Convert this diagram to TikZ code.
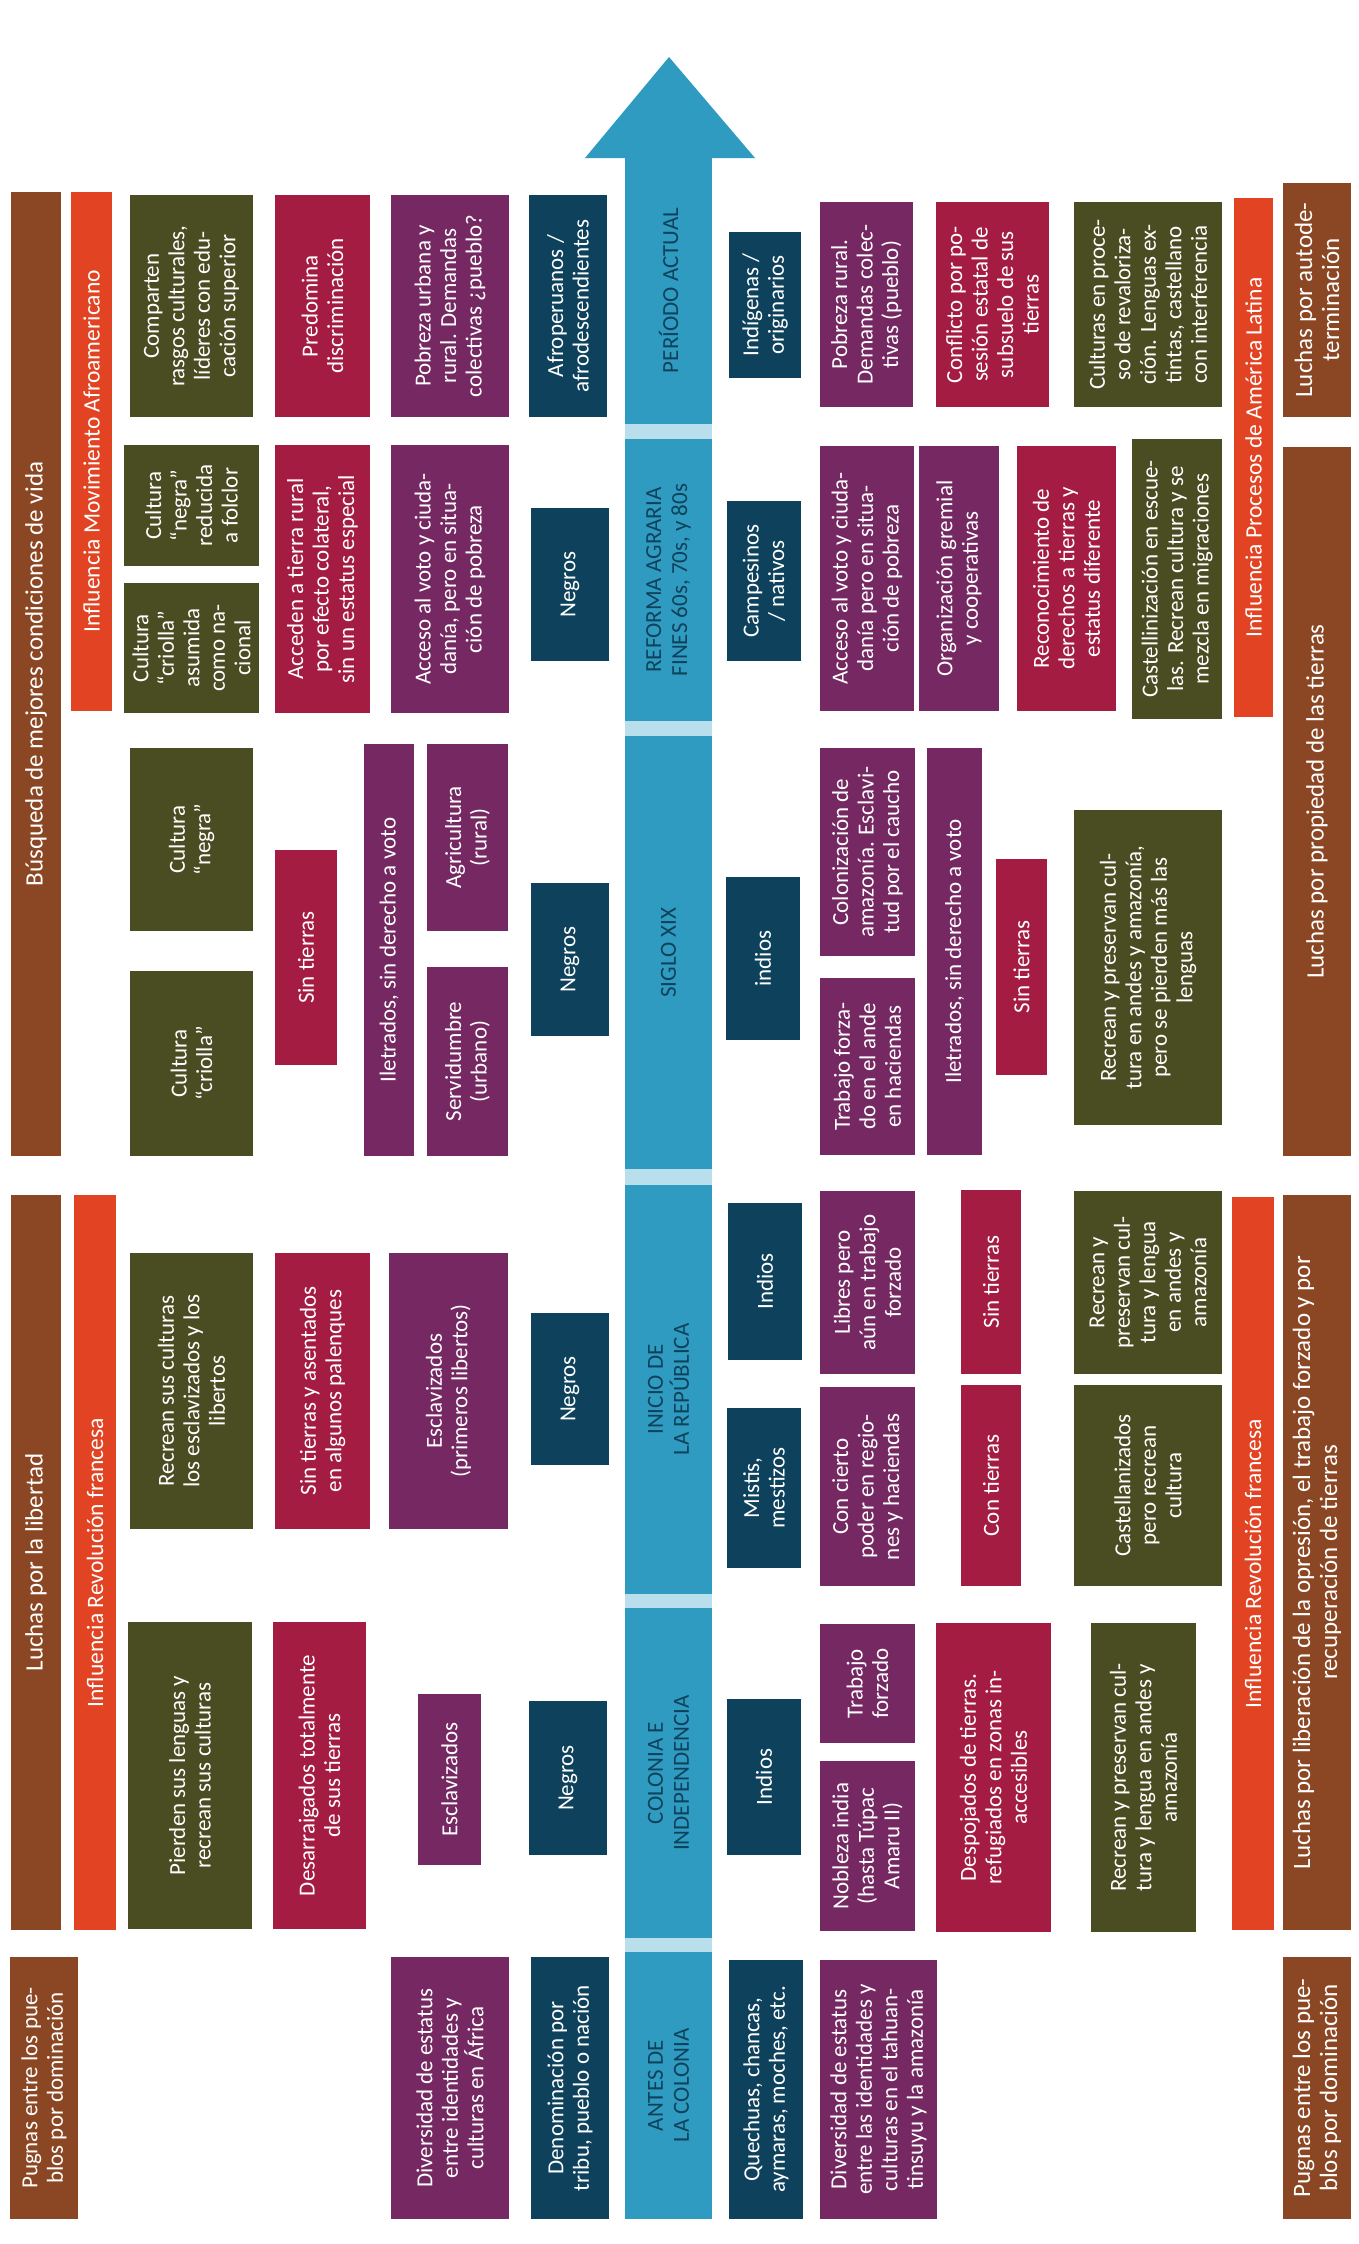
\documentclass[tikz,border=0pt]{standalone}
\usepackage{fontspec}
\setmainfont{Carlito}
\usepackage{xcolor}
\usepackage{tikz}
\definecolor{cStl}{RGB}{47,155,192}
\definecolor{cPal}{RGB}{186,223,236}
\definecolor{cNav}{RGB}{14,66,92}
\definecolor{cOlv}{RGB}{74,76,34}
\definecolor{cCrm}{RGB}{165,28,66}
\definecolor{cPur}{RGB}{117,40,98}
\definecolor{cRst}{RGB}{139,71,35}
\definecolor{cFlm}{RGB}{226,68,35}

\begin{document}
\begin{tikzpicture}[x=1pt, y=-1pt,
  cell/.style={rotate=90, inner sep=0pt, align=center, text=white,
               font=\fontsize{23}{25.5}\selectfont},
  olv/.style={cell, fill=cOlv},
  crm/.style={cell, fill=cCrm},
  pur/.style={cell, fill=cPur},
  nav/.style={cell, fill=cNav},
  infl/.style={cell, fill=cFlm, font=\fontsize{23.5}{26}\selectfont},
  band/.style={cell, fill=cRst, font=\fontsize{25}{27}\selectfont},
  era/.style={cell, fill=cStl, text=cNav, font=\fontsize{23}{26}\selectfont},
  wh/.style 2 args={minimum width=#1, minimum height=#2}]

\fill[white] (0,0) rectangle (1358,2244);
\useasboundingbox (0,0) rectangle (1358,2244);

\fill[cPal] (625,157) rectangle (712,2219);
\fill[cStl] (585,158) -- (669,57) -- (755,158) -- cycle;

\node[era, wh={267}{87}] (era1) at (668.5,290.5) {PERÍODO ACTUAL};
\node[era, wh={282}{87}] (era2) at (668.5,580) {REFORMA AGRARIA\\FINES 60s, 70s, y 80s};
\node[era, wh={433}{87}] (era3) at (668.5,952.5) {SIGLO XIX};
\node[era, wh={409}{87}] (era4) at (668.5,1389.5) {INICIO DE\\LA REPÚBLICA};
\node[era, wh={330}{87}] (era5) at (668.5,1773) {COLONIA E\\INDEPENDENCIA};
\node[era, wh={267}{87}] (era6) at (668.5,2085.5) {ANTES DE\\LA COLONIA};

\node[band, wh={964}{50}] (bsq) at (36,674) {Búsqueda de mejores condiciones de vida};
\node[infl, wh={519}{41}] (afro) at (91.5,451.5) {Influencia Movimiento Afroamericano};
\node[olv, wh={222}{123}] (cmp) at (191.5,306) {Comparten\\rasgos culturales,\\líderes con edu-\\cación superior};
\node[olv, wh={121}{135}] (ngr1) at (191.5,505.5) {Cultura\\``negra''\\reducida\\a folclor};
\node[olv, wh={130}{135}] (crl1) at (191.5,648) {Cultura\\``criolla''\\asumida\\como na-\\cional};
\node[crm, wh={222}{95}] (dsc) at (322.5,306) {Predomina\\discriminación};
\node[crm, wh={268}{95}] (acd) at (322.5,579) {Acceden a tierra rural\\por efecto colateral,\\sin un estatus especial};
\node[pur, wh={222}{118}] (pbu) at (450,306) {Pobreza urbana y\\rural. Demandas\\colectivas ¿pueblo?};
\node[pur, wh={268}{118}] (vto1) at (450,579) {Acceso al voto y ciuda-\\danía, pero en situa-\\ción de pobreza};

\node[olv, wh={183}{123}] (ngr2) at (191.5,839.5) {Cultura\\``negra''};
\node[crm, wh={215}{62}] (snt1) at (306,957.5) {Sin tierras};
\node[pur, wh={412}{50}] (ilt1) at (389,950) {Iletrados, sin derecho a voto};
\node[pur, wh={187}{81}] (agr) at (467.5,837.5) {Agricultura\\(rural)};
\node[pur, wh={189}{81}] (srv) at (467.5,1061.5) {Servidumbre\\(urbano)};
\node[olv, wh={185}{123}] (crl2) at (191.5,1063.5) {Cultura\\``criolla''};

\node[band, wh={735}{50}] (lib) at (36,1562.5) {Luchas por la libertad};
\node[infl, wh={735}{42}] (rvf1) at (95,1562.5) {Influencia Revolución francesa};
\node[olv, wh={276}{123}] (rcs) at (191.5,1391) {Recrean sus culturas\\los esclavizados y los\\libertos};
\node[crm, wh={276}{95}] (plq) at (322.5,1391) {Sin tierras y asentados\\en algunos palenques};
\node[pur, wh={276}{119}] (esc1) at (448.5,1391) {Esclavizados\\(primeros libertos)};

\node[olv, wh={307}{124}] (prd) at (190,1775.5) {Pierden sus lenguas y\\recrean sus culturas};
\node[crm, wh={307}{93}] (dsr) at (319.5,1775.5) {Desarraigados totalmente\\de sus tierras};
\node[pur, wh={171}{63}] (esc2) at (449.5,1779.5) {Esclavizados};

\node[band, wh={262}{68}, font=\fontsize{23}{25.5}\selectfont] (pug1) at (44,2088) {Pugnas entre los pue-\\blos por dominación};
\node[pur, wh={262}{118}] (div1) at (450,2088) {Diversidad de estatus\\entre identidades y\\culturas en África};

\node[nav, wh={222}{78}] (afp) at (568,306) {Afroperuanos /\\afrodescendientes};
\node[nav, wh={153}{78}] (neg1) at (570,584.5) {Negros};
\node[nav, wh={153}{78}] (neg2) at (570,959.5) {Negros};
\node[nav, wh={152}{78}] (neg3) at (570,1389) {Negros};
\node[nav, wh={154}{78}] (neg4) at (568,1778) {Negros};
\node[nav, wh={262}{78}] (den) at (570,2088) {Denominación por\\tribu, pueblo o nación};

\node[nav, wh={146}{72}] (ind1) at (765,305) {Indígenas /\\originarios};
\node[nav, wh={160}{74}] (cps) at (764,581) {Campesinos\\/ nativos};
\node[nav, wh={163}{74}] (ind2) at (763,958.5) {indios};
\node[nav, wh={157}{74}] (ind3) at (765,1281.5) {Indios};
\node[nav, wh={160}{74}] (mst) at (764,1488) {Mistis,\\mestizos};
\node[nav, wh={156}{74}] (ind4) at (764,1777) {Indios};
\node[nav, wh={259}{74}] (qch) at (766,2089.5) {Quechuas, chancas,\\aymaras, moches, etc.};

\node[pur, wh={205}{93}] (pbr) at (866.5,304.5) {Pobreza rural.\\Demandas colec-\\tivas (pueblo)};
\node[pur, wh={265}{94}] (vto2) at (867,578.5) {Acceso al voto y ciuda-\\danía pero en situa-\\ción de pobreza};
\node[pur, wh={265}{80}] (grm) at (959,578.5) {Organización gremial\\y cooperativas};
\node[pur, wh={208}{95}] (cau) at (867.5,852) {Colonización de\\amazonía. Esclavi-\\tud por el caucho};
\node[pur, wh={177}{95}] (tfa) at (867.5,1066.5) {Trabajo forza-\\do en el ande\\en haciendas};
\node[pur, wh={407}{55}] (ilt2) at (954.5,951.5) {Iletrados, sin derecho a voto};
\node[pur, wh={183}{95}] (lbr) at (867.5,1282.5) {Libres pero\\aún en trabajo\\forzado};
\node[pur, wh={199}{95}] (pdr) at (867.5,1486.5) {Con cierto\\poder en regio-\\nes y haciendas};
\node[pur, wh={119}{95}] (tfz) at (867.5,1683.5) {Trabajo\\forzado};
\node[pur, wh={170}{95}] (nbl) at (867.5,1846) {Nobleza india\\(hasta Túpac\\Amaru II)};
\node[pur, wh={259}{117}] (div2) at (878.5,2089.5) {Diversidad de estatus\\entre las identidades y\\culturas en el tahuan-\\tinsuyu y la amazonía};

\node[crm, wh={205}{113}] (cnf) at (992.5,304.5) {Conflicto por po-\\sesión estatal de\\subsuelo de sus\\tierras};
\node[crm, wh={265}{99}] (rec) at (1066.5,578.5) {Reconocimiento de\\derechos a tierras y\\estatus diferente};
\node[crm, wh={216}{51}] (snt2) at (1021.5,967) {Sin tierras};
\node[crm, wh={184}{60}] (snt3) at (991,1282) {Sin tierras};
\node[crm, wh={201}{60}] (cnt) at (991,1485.5) {Con tierras};
\node[crm, wh={309}{115}] (dsp) at (993.5,1777.5) {Despojados de tierras.\\refugiados en zonas in-\\accesibles};

\node[olv, wh={205}{148}] (rvl) at (1148,304.5) {Culturas en proce-\\so de revaloriza-\\ción. Lenguas ex-\\tintas, castellano\\con interferencia};
\node[olv, wh={280}{90}] (cst) at (1177,579) {Castellinización en escue-\\las. Recrean cultura y se\\mezcla en migraciones};
\node[olv, wh={315}{148}] (rps) at (1148,967.5) {Recrean y preservan cul-\\tura en andes y amazonía,\\pero se pierden más las\\lenguas};
\node[olv, wh={183}{148}] (rpi) at (1148,1282.5) {Recrean y\\preservan cul-\\tura y lengua\\en andes y\\amazonía};
\node[olv, wh={201}{148}] (csz) at (1148,1485.5) {Castellanizados\\pero recrean\\cultura};
\node[olv, wh={309}{105}] (rpc) at (1143.5,1777.5) {Recrean y preservan cul-\\tura y lengua en andes y\\amazonía};

\node[infl, wh={519}{39}] (pal) at (1253.5,457.5) {Influencia Procesos de América Latina};
\node[infl, wh={733}{42}] (rvf2) at (1253,1563.5) {Influencia Revolución francesa};

\node[band, wh={234}{68}] (atd) at (1317,300) {Luchas por autode-\\terminación};
\node[band, wh={709}{68}] (prp) at (1317,801.5) {Luchas por propiedad de las tierras};
\node[band, wh={735}{68}] (lbn) at (1317,1562.5) {Luchas por liberación de la opresión, el trabajo forzado y por\\recuperación de tierras};
\node[band, wh={262}{68}] (pug2) at (1317,2088) {Pugnas entre los pue-\\blos por dominación};
\end{tikzpicture}
\end{document}
